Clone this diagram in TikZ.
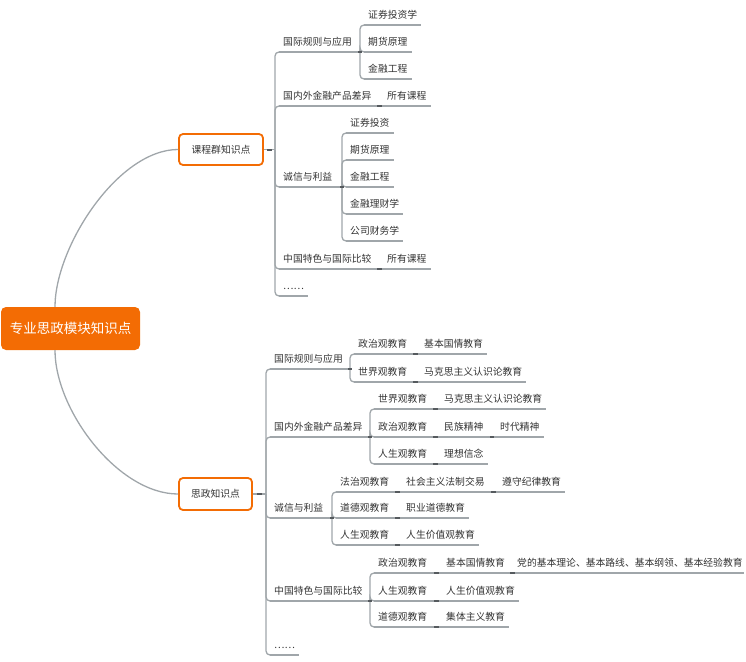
\documentclass[tikz,border=0pt]{standalone}
\usepackage{fontspec}
\setmainfont{Noto Sans CJK SC}

\definecolor{mindorange}{RGB}{243,108,4}
\definecolor{linegray}{RGB}{160,166,170}
\definecolor{foldgray}{RGB}{85,90,94}
\definecolor{textgray}{RGB}{51,51,51}

\begin{document}
\begin{tikzpicture}[x=1pt, y=-1pt,
        topic/.style = {anchor=south west, inner xsep=4pt, inner ysep=5pt, text height=8.6pt, text depth=1.2pt, text=textgray, font=\fontsize{9.8}{12}\selectfont},
        groupbox/.style = {draw=mindorange, line width=1.8pt, rounded corners=4pt, fill=white, text=textgray, font=\fontsize{9.8}{12}\selectfont},
        rootbox/.style = {fill=mindorange, rounded corners=5pt, text=white, font=\fontsize{13.5}{16}\selectfont, minimum width=139pt, minimum height=43pt},
        branch/.style = {draw=linegray, line width=1.3pt},
        bus/.style = {rounded corners=4pt, to path={|- (\tikztotarget)}},
        fold/.style = {fill=foldgray, inner sep=0pt, minimum width=4.5pt, minimum height=2pt} ]
        \useasboundingbox (0,0) rectangle (746,661);

        \node at (70.5, 328.5) [rootbox] (root) {专业思政模块知识点};
        \node at (221, 149.5) [groupbox, minimum width=84pt, minimum height=31pt] (kc) {课程群知识点};
        \node at (215.5, 494) [groupbox, minimum width=73pt, minimum height=32pt] (sz) {思政知识点};

        % 课程群知识点
        \node at (279, 52) [topic] (k1) {国际规则与应用};
        \node at (364, 25) [topic] (k11) {证券投资学};
        \node at (364, 52) [topic] (k12) {期货原理};
        \node at (364, 79) [topic] (k13) {金融工程};
        \node at (279, 106) [topic] (k2) {国内外金融产品差异};
        \node at (383, 106) [topic] (k21) {所有课程};
        \node at (279, 187) [topic] (k3) {诚信与利益};
        \node at (346, 133) [topic] (k31) {证券投资};
        \node at (346, 160) [topic] (k32) {期货原理};
        \node at (346, 187) [topic] (k33) {金融工程};
        \node at (346, 214) [topic] (k34) {金融理财学};
        \node at (346, 241) [topic] (k35) {公司财务学};
        \node at (279, 269) [topic] (k4) {中国特色与国际比较};
        \node at (383, 269) [topic] (k41) {所有课程};
        \node at (279, 296) [topic] (k5) {……};

        % 思政知识点
        \node at (270, 369) [topic] (s1) {国际规则与应用};
        \node at (354, 354) [topic] (s11) {政治观教育};
        \node at (420, 354) [topic] (s111) {基本国情教育};
        \node at (354, 382) [topic] (s12) {世界观教育};
        \node at (420, 382) [topic] (s121) {马克思主义认识论教育};
        \node at (270, 437) [topic] (s2) {国内外金融产品差异};
        \node at (374, 409) [topic] (s21) {世界观教育};
        \node at (440, 409) [topic] (s211) {马克思主义认识论教育};
        \node at (374, 437) [topic] (s22) {政治观教育};
        \node at (440, 437) [topic] (s221) {民族精神};
        \node at (496, 437) [topic] (s2211) {时代精神};
        \node at (374, 464) [topic] (s23) {人生观教育};
        \node at (440, 464) [topic] (s231) {理想信念};
        \node at (270, 518) [topic] (s3) {诚信与利益};
        \node at (336, 492) [topic] (s31) {法治观教育};
        \node at (402, 492) [topic] (s311) {社会主义法制交易};
        \node at (498, 492) [topic] (s3111) {遵守纪律教育};
        \node at (336, 518) [topic] (s32) {道德观教育};
        \node at (402, 518) [topic] (s321) {职业道德教育};
        \node at (336, 545) [topic] (s33) {人生观教育};
        \node at (402, 545) [topic] (s331) {人生价值观教育};
        \node at (270, 601) [topic] (s4) {中国特色与国际比较};
        \node at (374, 573) [topic] (s41) {政治观教育};
        \node at (442, 573) [topic] (s411) {基本国情教育};
        \node at (516, 573) [topic, inner xsep=1pt] (s4111) {党的基本理论、基本路线、基本纲领、基本经验教育};
        \node at (374, 601) [topic] (s42) {人生观教育};
        \node at (442, 601) [topic] (s421) {人生价值观教育};
        \node at (374, 627) [topic] (s43) {道德观教育};
        \node at (442, 627) [topic] (s431) {集体主义教育};
        \node at (270, 655) [topic] (s5) {……};

        \coordinate (j0) at (275, 149.5);
        \coordinate (j1) at (360, 52);
        \coordinate (j3) at (342, 187);
        \coordinate (jb0) at (266, 494);
        \coordinate (js1) at (350, 369);
        \coordinate (js2) at (370, 437);
        \coordinate (js3) at (332, 518);
        \coordinate (js4) at (370, 601);

        % underlines
        \foreach \n in {k1,k11,k12,k13,k2,k21,k3,k31,k32,k33,k34,k35,k4,k41,k5,
                s1,s11,s111,s12,s121,s2,s21,s211,s22,s221,s2211,s23,s231,
                s3,s31,s311,s3111,s32,s321,s33,s331,s4,s41,s411,s4111,s42,s421,s43,s431,s5}
            \draw[branch] (\n.south west) -- (\n.south east);

        % from the root
        \draw[branch] ([xshift=-15.5pt]root.north) .. controls +(0,-60) and +(-60,0) .. (kc.west);
        \draw[branch] ([xshift=-15.5pt]root.south) .. controls +(0,60) and +(-60,0) .. (sz.west);

        \path[branch]
        (kc.east) edge node[fold, midway] {} (j0)
        (j0) edge[bus] (k1.south west)
        (j0) edge[bus] (k2.south west)
        (j0) edge[bus] (k3.south west)
        (j0) edge[bus] (k4.south west)
        (j0) edge[bus] (k5.south west)
        (k1.south east) edge (j1)
        (j1) edge[bus] (k11.south west)
        (j1) edge[bus] (k12.south west)
        (j1) edge[bus] (k13.south west)
        (k2.south east) edge node[fold, midway] {} (k21.south west)
        (k3.south east) edge (j3)
        (j3) edge[bus] (k31.south west)
        (j3) edge[bus] (k32.south west)
        (j3) edge[bus] (k33.south west)
        (j3) edge[bus] (k34.south west)
        (j3) edge[bus] (k35.south west)
        (k4.south east) edge node[fold, midway] {} (k41.south west);

        \path[branch]
        (sz.east) edge node[fold, midway] {} (jb0)
        (jb0) edge[bus] (s1.south west)
        (jb0) edge[bus] (s2.south west)
        (jb0) edge[bus] (s3.south west)
        (jb0) edge[bus] (s4.south west)
        (jb0) edge[bus] (s5.south west)
        (s1.south east) edge (js1)
        (js1) edge[bus] (s11.south west)
        (js1) edge[bus] (s12.south west)
        (s11.south east) edge node[fold, midway] {} (s111.south west)
        (s12.south east) edge node[fold, midway] {} (s121.south west)
        (s2.south east) edge (js2)
        (js2) edge[bus] (s21.south west)
        (js2) edge[bus] (s22.south west)
        (js2) edge[bus] (s23.south west)
        (s21.south east) edge node[fold, midway] {} (s211.south west)
        (s22.south east) edge node[fold, midway] {} (s221.south west)
        (s221.south east) edge node[fold, midway] {} (s2211.south west)
        (s23.south east) edge node[fold, midway] {} (s231.south west)
        (s3.south east) edge (js3)
        (js3) edge[bus] (s31.south west)
        (js3) edge[bus] (s32.south west)
        (js3) edge[bus] (s33.south west)
        (s31.south east) edge node[fold, midway] {} (s311.south west)
        (s311.south east) edge node[fold, midway] {} (s3111.south west)
        (s32.south east) edge node[fold, midway] {} (s321.south west)
        (s33.south east) edge node[fold, midway] {} (s331.south west)
        (s4.south east) edge (js4)
        (js4) edge[bus] (s41.south west)
        (js4) edge[bus] (s42.south west)
        (js4) edge[bus] (s43.south west)
        (s41.south east) edge node[fold, midway] {} (s411.south west)
        (s411.south east) edge node[fold, midway] {} (s4111.south west)
        (s42.south east) edge node[fold, midway] {} (s421.south west)
        (s43.south east) edge node[fold, midway] {} (s431.south west);

        \foreach \j in {j1,j3,js1,js2,js3,js4}
            \node[fold] at (\j) {};

    \end{tikzpicture}
\end{document}
